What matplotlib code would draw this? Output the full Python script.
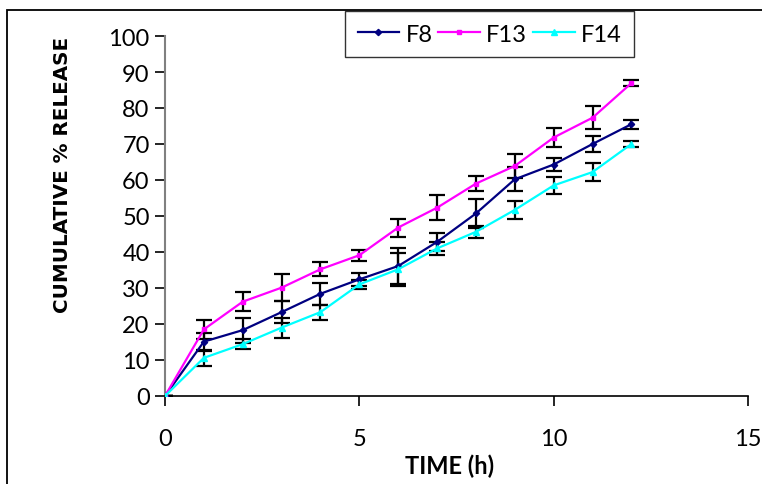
import matplotlib
matplotlib.use("Agg")
import matplotlib.pyplot as plt
from matplotlib.patches import Rectangle

time_h = [0, 1, 2, 3, 4, 5, 6, 7, 8, 9, 10, 11, 12]
f8 = [0, 15.1, 18.3, 23.3, 28.4, 32.4, 36.1, 42.8, 50.7, 60.2, 64.3, 70.0, 75.5]
f8_err = [0, 2.5, 3.5, 3.0, 3.0, 1.8, 5.0, 2.5, 4.0, 3.3, 1.8, 2.2, 1.3]
f13 = [0, 18.5, 26.2, 30.1, 35.2, 39.1, 46.8, 52.3, 59.0, 63.9, 71.8, 77.3, 86.9]
f13_err = [0, 2.6, 2.7, 3.7, 2.0, 1.5, 2.5, 3.4, 2.1, 3.3, 2.7, 3.2, 0.8]
f14 = [0, 10.6, 14.4, 19.0, 23.3, 31.0, 35.2, 41.0, 45.6, 51.7, 58.5, 62.2, 70.0]
f14_err = [0, 2.3, 1.4, 2.8, 2.1, 1.2, 4.6, 1.8, 1.6, 2.5, 2.3, 2.5, 0.8]

series = [("F8", f8, f8_err, "#000080", "D", 3.2),
          ("F13", f13, f13_err, "#FF00FF", "s", 3.2),
          ("F14", f14, f14_err, "#00FFFF", "^", 4.2)]

x_ticks = [0, 5, 10, 15]
y_ticks = [0, 10, 20, 30, 40, 50, 60, 70, 80, 90, 100]

fig = plt.figure(figsize=(7.62, 4.85), dpi=100)
fig.patch.set_facecolor("white")
fig.patches.append(Rectangle((7/762, -0.01), 1.1, 1 - 11/485 + 0.01, transform=fig.transFigure,
                             fill=False, edgecolor="black", linewidth=1.3))

ax = fig.add_axes([165/762, 1 - 397/485, (748 - 165)/762, (397 - 37)/485])
tick_font = "Lato"

handles = []
for name, vals, err, col, mk, ms in series:
    ax.errorbar(time_h, vals, yerr=err, fmt="none", ecolor="black", elinewidth=1.6,
                capsize=6, capthick=1.6, zorder=2)
for name, vals, err, col, mk, ms in series:
    h, = ax.plot(time_h, vals, color=col, marker=mk, markersize=ms, linewidth=1.6,
                 label=name, zorder=3)
    handles.append(h)

ax.set_xlim(0, 15)
ax.set_ylim(0, 100)
ax.set_xticks(x_ticks)
ax.set_yticks(y_ticks)
ax.set_xticklabels([str(t) for t in x_ticks], fontsize=17, family=tick_font)
ax.set_yticklabels([str(t) for t in y_ticks], fontsize=17, family=tick_font)
ax.tick_params(axis="x", direction="out", length=7, width=1.2, pad=16, colors="black")
ax.tick_params(axis="y", direction="out", length=7, width=1.2, pad=4, colors="black")
ax.spines["top"].set_visible(False)
ax.spines["right"].set_visible(False)
ax.spines["left"].set_color("#808080")
ax.spines["left"].set_linewidth(1.5)
ax.spines["bottom"].set_color("black")
ax.spines["bottom"].set_linewidth(1.2)

ax.set_xlabel("TIME (h)", fontsize=17, fontweight="bold", family="Lato", va="center")
ax.xaxis.set_label_coords((450 - 165) / 583, (397 - 466) / 360)
ax.set_ylabel("CUMULATIVE % RELEASE", fontsize=14.3, fontweight="bold",
              family="DejaVu Sans", va="center")
ax.yaxis.set_label_coords((63 - 165) / 583, (397 - 175) / 360)

leg = fig.legend(handles=handles, loc="upper left", bbox_to_anchor=(345/762, 1 - 12/485),
                 ncol=3, frameon=True, fancybox=False, edgecolor="black",
                 handlelength=1.75, handletextpad=0.28, columnspacing=0.25, borderpad=0.53,
                 borderaxespad=0, prop={"family": tick_font, "size": 17})
leg.get_frame().set_linewidth(1.0)

fig.savefig("out.png", dpi=100)
